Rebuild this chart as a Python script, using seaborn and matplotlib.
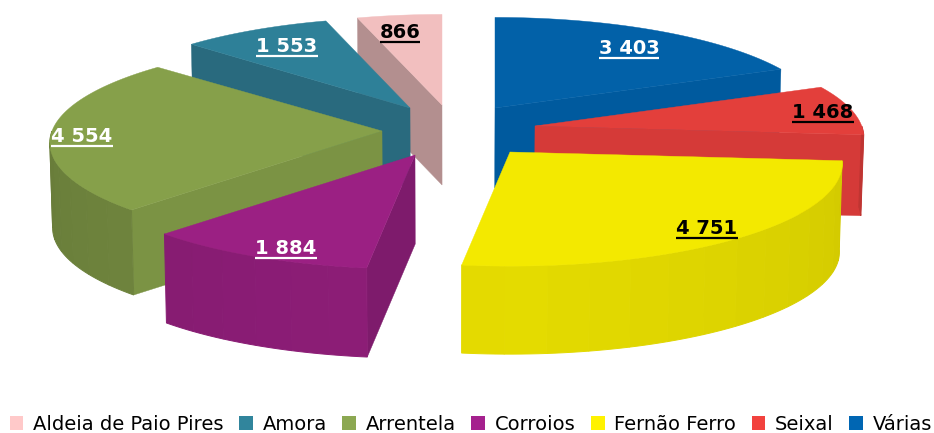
import numpy as np
import pandas as pd
import seaborn as sns
import matplotlib.pyplot as plt
from matplotlib.colors import to_rgb
from matplotlib.patches import Patch

# values, legend order
categories = ['Aldeia de Paio Pires', 'Amora', 'Arrentela', 'Corroios', 'Fernão Ferro', 'Seixal', 'Várias']
values = [866, 1553, 4554, 1884, 4751, 1468, 3403]

# look of each slice
legend_colors = ['#FFC9C9', '#31859C', '#8CA852', '#A5218E', '#FFF200', '#F2423E', '#0066B3']
top_colors = ['#F2BFBF', '#2E8098', '#86A04A', '#9B2083', '#F3E900', '#E33F3B', '#0261A8']
radial_colors = ['#B38F8F', '#296A7E', '#7B9344', '#7E1B6C', '#E3DA00', '#D53A38', '#005A9E']
label_colors = ['black', 'white', 'white', 'white', 'black', 'black', 'white']
# apex of every exploded slice on the canvas (pixels), wall height, rim brightness
apex_xy = [(442, 105), (410, 108), (382, 131), (415, 155), (510, 152), (535, 126), (495, 108)]
depths = [80, 80, 85, 89, 88, 81, 80]
rim_base = [0.9, 0.9, 0.86, 0.91, 0.94, 0.92, 0.92]
rx_scale = [0.98, 0.975, 1, 1, 1, 0.99, 0.99]
label_xy = [(400, 32), (287, 46), (82, 136), (286, 248), (707, 228), (823, 112), (629, 48)]
draw_order = ['Aldeia de Paio Pires', 'Amora', 'Arrentela', 'Várias', 'Seixal', 'Corroios', 'Fernão Ferro']

RX = 330
RY = 101
PERSP = 0.115

df = pd.DataFrame({'name': categories, 'value': values})
# slices run counter-clockwise from 12 o'clock, so work back from 360
df['end'] = 360 - df['value'].cumsum().shift(fill_value=0) / df['value'].sum() * 360
df['start'] = 360 - df['value'].cumsum() / df['value'].sum() * 360
df['top'] = top_colors
df['radial'] = radial_colors
df['text_color'] = label_colors
df['apex'] = apex_xy
df['depth'] = depths
df['rim'] = rim_base
df['rx'] = [RX * s for s in rx_scale]
df['label_pos'] = label_xy
df = df.set_index('name')


def project(theta, apex, rx):
    t = np.radians(theta)
    f = 1 / (1 + PERSP * np.cos(t))
    return apex[0] + rx * np.sin(t) * f, apex[1] - RY * np.cos(t) * f


def drop(x, y, depth):
    # walls lean very slightly towards the middle of the picture
    return 450 + (np.asarray(x) - 450) * 0.993, np.asarray(y) + depth


def shade(color, k):
    return tuple(c * k for c in to_rgb(color))


def draw_slice(ax, row):
    a, b = row['start'], row['end']
    apex = row['apex']
    depth = row['depth']
    rx = row['rx']
    # radial faces
    for theta, seen in [(a, np.sin(np.radians(a)) < 0), (b, np.sin(np.radians(b)) > 0)]:
        if seen:
            x, y = project(theta, apex, rx)
            xb, yb = drop(x, y, depth)
            ax0, ay0 = drop(apex[0], apex[1], depth)
            ax.fill([apex[0], x, xb, ax0], [apex[1], y, yb, ay0],
                    color=row['radial'], lw=0.3, zorder=2)
    # outer wall, painted in narrow bands
    lo, hi = max(a, 90), min(b, 270)
    if hi > lo:
        edges = np.linspace(lo, hi, int(np.ceil((hi - lo) / 7)) + 1)
        for e0, e1 in zip(edges[:-1], edges[1:]):
            th = np.linspace(e0, e1, 6)
            x, y = project(th, apex, rx)
            xb, yb = drop(x, y, depth)
            k = row['rim'] - 0.08 * abs((e0 + e1) / 2 - 180) / 90
            ax.fill(np.r_[x, xb[::-1]], np.r_[y, yb[::-1]],
                    color=shade(row['top'], k), lw=0.7, zorder=2)
    # top surface
    th = np.linspace(a, b, 80)
    x, y = project(th, apex, rx)
    ax.fill(np.r_[apex[0], x], np.r_[apex[1], y], color=row['top'], lw=0.3, zorder=2)


sns.set_theme(style='white')
plt.rcParams['font.family'] = ['DejaVu Sans']

fig, ax = plt.subplots(figsize=(9.34, 4.33), dpi=100)
ax.set_position([0, 0, 1, 1])
ax.set_xlim(0, 934)
ax.set_ylim(433, 0)
ax.axis('off')

for name in draw_order:
    draw_slice(ax, df.loc[name])

# value labels with underline
fig.canvas.draw()
renderer = fig.canvas.get_renderer()
for name, row in df.iterrows():
    txt = f"{row['value']:,}".replace(',', ' ')
    t = ax.text(row['label_pos'][0], row['label_pos'][1], txt, ha='center', va='center',
                fontsize=14, fontweight='bold', color=row['text_color'], zorder=5)
    box = t.get_window_extent(renderer)
    ax.plot([box.x0, box.x1], [row['label_pos'][1] + 10] * 2, color=row['text_color'],
            lw=1.6, solid_capstyle='butt', zorder=5)

handles = [Patch(facecolor=c, edgecolor='none', label=n) for c, n in zip(legend_colors, categories)]
ax.legend(handles=handles, loc='center', bbox_to_anchor=(471, 424), bbox_transform=ax.transData,
          ncol=7, frameon=False, fontsize=14, labelcolor='black', handlelength=0.7, handleheight=0.7,
          handletextpad=0.5, columnspacing=0.8, borderpad=0, borderaxespad=0)

fig.savefig('out.png', dpi=100)
